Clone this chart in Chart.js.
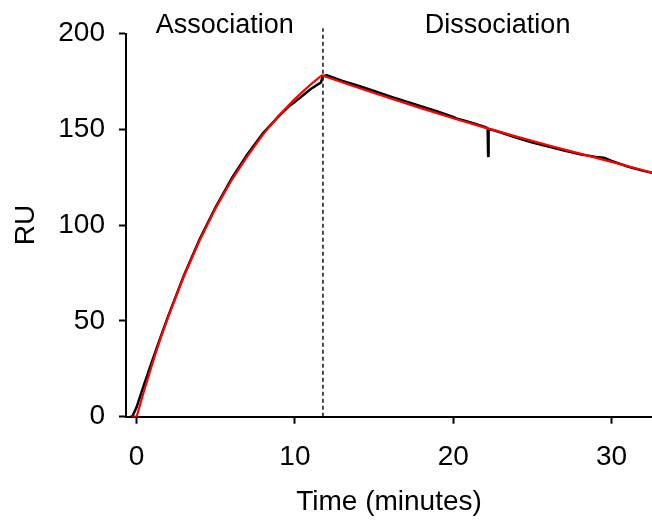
<!DOCTYPE html>
<html>
<head>
<meta charset="utf-8">
<script src="https://cdn.jsdelivr.net/npm/chart.js@4"></script>
<style>
  html, body { margin:0; padding:0; background:#fff; }
  #wrap { width:652px; height:520px; }
</style>
</head>
<body>
<div id="wrap"><canvas id="spr" width="652" height="520"></canvas></div>
<script>

/* ===================================================== */
/* DATA */
/* ===================================================== */

// measured sensorgram (black)
const dataTime = [
  -0.42, -0.28, 0, 0.5, 1, 1.5, 2, 3, 4, 5, 6, 7, 8, 9, 9.7, 10, 11, 11.65, 11.74,
  12, 13, 14, 15, 16, 17, 18, 19, 20, 20.2, 21, 22, 22.17, 22.2, 22.23, 22.5,
  23, 24, 25, 26, 27, 28, 29, 29.5, 30, 31, 32, 32.6
];
const dataRU = [
  0, 0, 5, 17.5, 29.5, 41.3, 52.6, 74, 93, 109.5, 124.3, 137, 148.2, 157, 162.6, 164.3, 171, 174.5, 177.6,
  178.2, 175.3, 172.7, 170, 167.2, 164.6, 161.9, 159.3, 156.5, 155.6, 153.8, 151.2, 150.6, 136, 150, 149.6,
  148.3, 145.6, 143.1, 141, 138.9, 137, 135.6, 135.2, 133.5, 130.6, 128.3, 127.2
];

// kinetic fit (red)
const fitTime = [
  -0.3, 0, 0.5, 1, 1.5, 2, 3, 4, 5, 6, 7, 8, 9, 10, 11, 11.7,
  12, 14, 16, 18, 20, 22, 24, 26, 28, 30, 32, 32.6
];
const fitRU = [
  0, 0, 14.3, 27.8, 40.7, 52.2, 73.6, 92.4, 109, 123.5, 136, 147.5, 157.3, 165.9, 173.5, 178.2,
  177.3, 171.7, 166.2, 160.9, 155.8, 150.9, 146.2, 141.7, 137.3, 133, 128.6, 127.2
];

// injection stop marker
const injectionEnd = 11.77;

// phase labels
const phaseNames = ["Association", "Dissociation"];
const phaseCenters = [5.57, 22.8];

const xTicks = [0, 10, 20, 30];
const yTicks = [0, 50, 100, 150, 200];

/* ===================================================== */
/* POINTS */
/* ===================================================== */

function toPoints(xs, ys){
  return xs.map((x, i) => ({ x: x, y: ys[i] }));
}

/* ===================================================== */
/* PHASE LABELS PLUGIN */
/* ===================================================== */

const phaseLabels = {
  id: 'phaseLabels',
  afterDraw(chart){
    const ctx = chart.ctx;
    const xs = chart.scales.x;
    ctx.save();
    ctx.fillStyle = '#000';
    ctx.font = '27px "Liberation Sans", Arial, sans-serif';
    ctx.textAlign = 'center';
    ctx.textBaseline = 'alphabetic';
    phaseNames.forEach((name, i) => {
      ctx.fillText(name, xs.getPixelForValue(phaseCenters[i]), chart.chartArea.top - 0.5);
    });
    ctx.restore();
  }
};

/* ===================================================== */
/* CHART */
/* ===================================================== */

const font = { family: '"Liberation Sans", Arial, sans-serif', size: 28 };

new Chart(
document.getElementById("spr"),
{
  type: 'scatter',
  data: {
    datasets: [
      {
        label: 'Injection end',
        data: [{ x: injectionEnd, y: 0 }, { x: injectionEnd, y: 202.8 }],
        showLine: true,
        borderColor: '#000',
        borderWidth: 1.4,
        borderDash: [4, 3],
        pointRadius: 0,
        clip: false,
        order: 3
      },
      {
        label: 'Data',
        data: toPoints(dataTime, dataRU),
        showLine: true,
        borderColor: '#000',
        borderWidth: 2.5,
        borderJoinStyle: 'round',
        pointRadius: 0,
        tension: 0,
        order: 2
      },
      {
        label: 'Fit',
        data: toPoints(fitTime, fitRU),
        showLine: true,
        borderColor: '#ff0000',
        borderWidth: 2.2,
        borderJoinStyle: 'round',
        pointRadius: 0,
        tension: 0,
        order: 1
      }
    ]
  },
  options: {
    responsive: false,
    animation: false,
    devicePixelRatio: 1,
    layout: { padding: { top: 33.5, left: 0, right: 0, bottom: 0 } },
    plugins: {
      legend: { display: false },
      tooltip: { enabled: false }
    },
    scales: {
      x: {
        type: 'linear',
        min: -0.67,
        max: 32.55,
        afterBuildTicks: (s) => { s.ticks = xTicks.map(v => ({ value: v })); },
        afterFit: (s) => { s.height = 103.3; },
        ticks: { color: '#000', font: font, padding: 17, maxRotation: 0 },
        grid: { display: true, drawOnChartArea: false, drawTicks: true, tickLength: 7, tickWidth: 2, color: '#000' },
        border: { display: true, color: '#000', width: 2 },
        title: { display: true, text: 'Time (minutes)', color: '#000', font: font, padding: { top: 0, bottom: 1 } }
      },
      y: {
        type: 'linear',
        min: 0,
        max: 200,
        afterBuildTicks: (s) => { s.ticks = yTicks.map(v => ({ value: v })); },
        afterFit: (s) => { s.width = 126; },
        ticks: { color: '#000', font: font, padding: 14 },
        grid: { display: true, drawOnChartArea: false, drawTicks: true, tickLength: 7, tickWidth: 2, color: '#000' },
        border: { display: true, color: '#000', width: 2 },
        title: { display: true, text: 'RU', color: '#000', font: font, padding: { top: 9, bottom: 0 } }
      }
    }
  },
  plugins: [phaseLabels]
});

</script>
</body>
</html>
